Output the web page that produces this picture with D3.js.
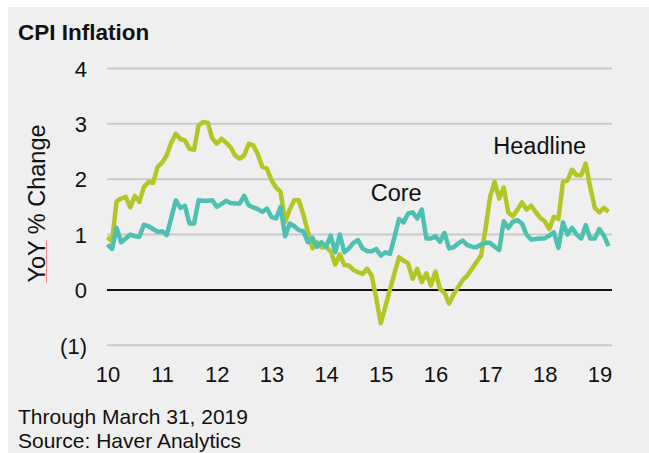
<!DOCTYPE html>
<html>
<head>
<meta charset="utf-8">
<script src="https://cdn.jsdelivr.net/npm/d3@7"></script>
<style>
  html, body { margin: 0; padding: 0; background: #fff; }
  text { font-family: "Liberation Sans", Arial, Helvetica, sans-serif; fill: #111; }
</style>
</head>
<body>
<div id="chart"></div>
<script>
// monthly YoY % change, Jan 2010 .. Mar 2019
var startYear = 2010;
var headline = [
  0.95, 0.88, 1.60, 1.65, 1.68, 1.49, 1.70, 1.59, 1.86, 1.95, 1.93, 2.22,
  2.30, 2.43, 2.66, 2.82, 2.72, 2.70, 2.55, 2.53, 2.97, 3.03, 3.02, 2.74,
  2.64, 2.73, 2.66, 2.58, 2.43, 2.37, 2.43, 2.64, 2.61, 2.45, 2.22, 2.19,
  1.98, 1.85, 1.77, 1.23, 1.45, 1.62, 1.62, 1.36, 1.05, 0.75, 0.86, 0.77,
  0.77, 0.70, 0.46, 0.64, 0.45, 0.44, 0.36, 0.32, 0.29, 0.38, 0.26, -0.15,
  -0.60, -0.30, 0.00, 0.30, 0.59, 0.53, 0.48, 0.20, 0.38, 0.14, 0.30, 0.08,
  0.33, 0.02, -0.05, -0.25, -0.08, 0.05, 0.18, 0.26, 0.38, 0.50, 0.62, 1.10,
  1.68, 1.95, 1.65, 1.85, 1.40, 1.33, 1.45, 1.58, 1.45, 1.52, 1.41, 1.30,
  1.24, 1.10, 1.32, 1.28, 1.95, 1.98, 2.17, 2.07, 2.07, 2.28, 1.85, 1.48,
  1.40, 1.48, 1.41
];
var core = [
  0.82, 0.74, 1.12, 0.86, 0.93, 1.00, 0.97, 0.96, 1.18, 1.15, 1.10, 1.05,
  1.06, 0.99, 1.30, 1.62, 1.48, 1.52, 1.20, 1.20, 1.62, 1.61, 1.61, 1.62,
  1.50, 1.55, 1.61, 1.57, 1.56, 1.56, 1.70, 1.53, 1.49, 1.46, 1.41, 1.47,
  1.32, 1.29, 1.50, 0.97, 1.20, 1.15, 1.08, 1.06, 0.86, 0.94, 0.78, 0.86,
  0.78, 0.98, 0.68, 1.00, 0.68, 0.75, 0.85, 0.90, 0.75, 0.70, 0.70, 0.74,
  0.62, 0.68, 0.65, 0.95, 1.28, 1.22, 1.38, 1.40, 1.29, 1.45, 0.93, 0.93,
  0.97, 0.87, 1.03, 0.75, 0.77, 0.84, 0.89, 0.81, 0.78, 0.77, 0.82, 0.85,
  0.85, 0.78, 0.72, 1.24, 1.12, 1.23, 1.26, 1.20, 1.00, 0.91, 0.92, 0.93,
  0.93, 0.98, 1.04, 0.76, 1.22, 1.00, 1.12, 1.00, 0.93, 1.17, 0.93, 0.93,
  1.10, 0.98, 0.79
];
var yearTicks = [2010, 2011, 2012, 2013, 2014, 2015, 2016, 2017, 2018, 2019];
var valueTicks = [-1, 0, 1, 2, 3, 4];
var seriesLabels = [
  {name: 'Core', t: 2014 + 9.8 / 12, v: 1.60},
  {name: 'Headline', t: 2017 + 0.7 / 12, v: 2.45}
];

var width = 649, height = 453;
var headlineColor = '#b4c626', coreColor = '#4dc0b1';

var svg = d3.select('#chart').append('svg')
    .attr('width', width)
    .attr('height', height);

// grey panel, white strip on top and left
svg.append('rect')
    .attr('x', 8).attr('y', 7)
    .attr('width', width - 8).attr('height', height - 7)
    .attr('fill', '#efefef');

var x = d3.scaleLinear()
    .domain([startYear, startYear + (headline.length - 1) / 12])
    .range([107.5, 608.5]);

var y = d3.scaleLinear()
    .domain([-1, 4])
    .range([345.3, 68.4]);

// horizontal grid
svg.append('g').selectAll('line')
    .data(valueTicks.filter(d => d !== 0))
    .enter()
    .append('line')
    .attr('x1', 107).attr('x2', 612)
    .attr('y1', d => y(d)).attr('y2', d => y(d))
    .attr('stroke', '#c9c9c9')
    .attr('stroke-width', 2);

svg.append('line')
    .attr('x1', 107).attr('x2', 612)
    .attr('y1', y(0)).attr('y2', y(0))
    .attr('stroke', '#111')
    .attr('stroke-width', 2);

// axes (labels only)
var yAxis = svg.append('g')
    .attr('transform', 'translate(87,0)')
    .call(d3.axisLeft(y).tickValues(valueTicks).tickSize(0).tickPadding(0)
        .tickFormat(d => d < 0 ? '(' + Math.abs(d) + ')' : d));
yAxis.select('.domain').remove();
yAxis.selectAll('text')
    .attr('font-size', 22)
    .attr('font-family', null)
    .attr('dy', '0.35em');

var xAxis = svg.append('g')
    .attr('transform', 'translate(0,' + 382 + ')')
    .call(d3.axisBottom(x).tickValues(yearTicks).tickSize(0).tickPadding(0)
        .tickFormat(d => String(d).slice(2)));
xAxis.select('.domain').remove();
xAxis.selectAll('text')
    .attr('font-size', 22)
    .attr('font-family', null)
    .attr('dy', 0);

// series
var line = d3.line()
    .x((d, i) => x(startYear + i / 12))
    .y(d => y(d))
    .curve(d3.curveLinear);

svg.append('path')
    .datum(headline)
    .attr('d', line)
    .attr('fill', 'none')
    .attr('stroke', headlineColor)
    .attr('stroke-width', 4.5)
    .attr('stroke-linejoin', 'round');

svg.append('path')
    .datum(core)
    .attr('d', line)
    .attr('fill', 'none')
    .attr('stroke', coreColor)
    .attr('stroke-width', 4.5)
    .attr('stroke-linejoin', 'round');

svg.selectAll('text.series')
    .data(seriesLabels)
    .enter()
    .append('text')
    .attr('class', 'series')
    .attr('x', d => x(d.t))
    .attr('y', d => y(d.v))
    .attr('font-size', 23.5)
    .text(d => d.name);

// titles
svg.append('text')
    .attr('x', 18).attr('y', 40)
    .attr('font-size', 22.5)
    .attr('font-weight', 'bold')
    .text('CPI Inflation');

var yTitle = svg.append('text')
    .attr('transform', 'translate(45,203.5) rotate(-90)')
    .attr('text-anchor', 'middle')
    .attr('font-size', 23.5)
    .text('YoY % Change');

// spell-check squiggle under "YoY"
var yoyLen = yTitle.node().getSubStringLength(0, 3);
var titleLen = yTitle.node().getComputedTextLength();
var yStart = 203.5 + titleLen / 2;
svg.append('line')
    .attr('x1', 46.5).attr('x2', 46.5)
    .attr('y1', yStart).attr('y2', yStart - yoyLen)
    .attr('stroke', '#ee8a8a')
    .attr('stroke-width', 1);

svg.append('text')
    .attr('x', 18).attr('y', 424)
    .attr('font-size', 21)
    .text('Through March 31, 2019');

svg.append('text')
    .attr('x', 18).attr('y', 448)
    .attr('font-size', 21)
    .text('Source: Haver Analytics');
</script>
</body>
</html>
